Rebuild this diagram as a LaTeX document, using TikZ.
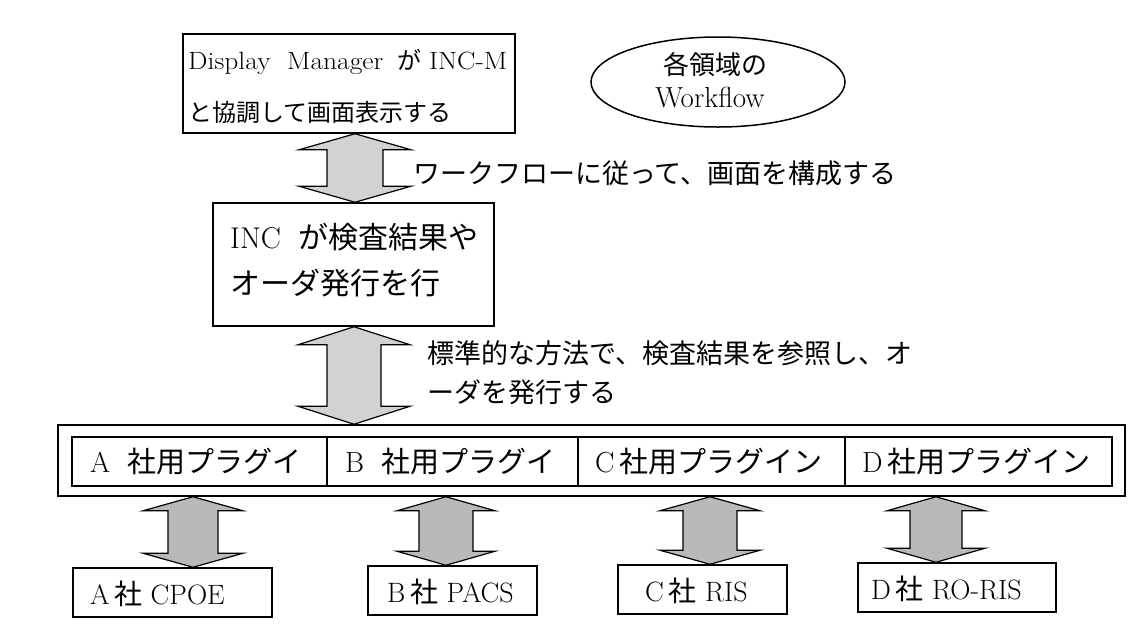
\documentclass[tikz,border=0pt]{standalone}
\usepackage{fontspec}
\usepackage{graphicx}
\newfontfamily\cjk{Noto Sans CJK JP}
\usetikzlibrary{calc,shapes.geometric}
\newcommand\jpn[1]{{\cjk #1}}
\newcommand\widelat[1]{\scalebox{1.1}[1]{#1}}
\newcommand\dblarrow[6]{%
  \draw[#1] let \p1=(#2), \p2=(#3) in
  (\x1,\y1) -- ({\x1+#4pt},{\y1-#6pt}) -- ({\x1+#5pt},{\y1-#6pt})
  -- ({\x1+#5pt},{\y2+#6pt}) -- ({\x1+#4pt},{\y2+#6pt}) -- (\x1,\y2)
  -- ({\x1-#4pt},{\y2+#6pt}) -- ({\x1-#5pt},{\y2+#6pt})
  -- ({\x1-#5pt},{\y1-#6pt}) -- ({\x1-#4pt},{\y1-#6pt}) -- cycle;}
\begin{document}
\begin{tikzpicture}[x=1pt,y=-1pt,
  box/.style={draw, line width=1.5pt, rectangle, inner sep=0pt},
  txt/.style={anchor=west, inner sep=0pt},
  ctxt/.style={inner sep=0pt},
  lightarrow/.style={draw, line width=1.2pt, fill=gray!35, line join=miter},
  darkarrow/.style={draw, line width=1.2pt, fill=gray!55, line join=miter},
  fa/.style={font=\fontsize{24}{24}\selectfont},
  fb/.style={font=\fontsize{26}{26}\selectfont},
  fw/.style={font=\fontsize{29}{29}\selectfont},
  fc/.style={font=\fontsize{27}{27}\selectfont},
  fd/.style={font=\fontsize{30}{30}\selectfont},
  fe/.style={font=\fontsize{29}{29}\selectfont},
  ff/.style={font=\fontsize{28}{28}\selectfont}]
\useasboundingbox (0,0) rectangle (1130,638);

% top box
\node[box, minimum width=332pt, minimum height=99pt] (dm) at (349,83.5) {};
\node[txt, fa] (dm1) at (188,62) {\widelat{\fontsize{25}{25}\selectfont Display\ \ Manager}\ \ \jpn{が}\ \widelat{\fontsize{25}{25}\selectfont INC-M}};
\node[txt, fa] (dm2) at (188,112) {\jpn{と協調して画面表示する}};

% ellipse
\node[ellipse, draw, line width=1.5pt, inner sep=0pt, minimum width=254pt, minimum height=90pt] (wf) at (718,82) {};
\node[ctxt, fb] (wf1) at (715,65) {\jpn{各領域の}};
\node[ctxt, fw] (wf2) at (710,98) {Workflow};

% INC box
\node[box, minimum width=281pt, minimum height=123pt] (inc) at (353.5,264.5) {};
\node[txt, fd] (inc1) at (230,237) {INC\ \ \jpn{が検査結果や}};
\node[txt, fd] (inc2) at (230,283) {\jpn{オーダ発行を行}};

% labels
\node[txt, fc] (l1) at (413,173) {\jpn{ワークフローに従って、画面を構成する}};
\node[txt, fc] (l2a) at (427,353) {\jpn{標準的な方法で、検査結果を参照し、オ}};
\node[txt, fc] (l2b) at (427,392) {\jpn{ーダを発行する}};

% plugin row
\node[box, minimum width=1067pt, minimum height=71pt] (row) at (591.5,460.5) {};
\node[box, minimum width=255pt, minimum height=49pt] (cA) at (199.5,461.5) {};
\node[box, minimum width=251pt, minimum height=49pt] (cB) at (452.5,461.5) {};
\node[box, minimum width=267pt, minimum height=49pt] (cC) at (711.5,461.5) {};
\node[box, minimum width=267pt, minimum height=49pt] (cD) at (978.5,461.5) {};
\node[txt, fe] (tA) at (90,462) {A\ \ \jpn{社用プラグイ}};
\node[txt, fe] (tB) at (345,462) {B\ \ \jpn{社用プラグイ}};
\node[txt, fe] (tC) at (595,462) {C\,\jpn{社用プラグイン}};
\node[txt, fe] (tD) at (862,462) {D\,\jpn{社用プラグイン}};

% bottom systems
\node[box, minimum width=199pt, minimum height=49pt] (sA) at (172.5,592.5) {};
\node[box, minimum width=169pt, minimum height=49pt] (sB) at (452.5,590.5) {};
\node[box, minimum width=169pt, minimum height=49pt] (sC) at (702.5,589.5) {};
\node[box, minimum width=198pt, minimum height=49pt] (sD) at (957,587.5) {};
\node[txt, ff] (xA) at (90,594) {A\,\jpn{社} CPOE};
\node[txt, ff] (xB) at (387,592) {B\,\jpn{社} PACS};
\node[txt, ff] (xC) at (645,591) {C\,\jpn{社} RIS};
\node[txt, ff] (xD) at (871,589) {D\,\jpn{社} RO-RIS};

% arrow end points
\coordinate (a1t) at ($(dm.south)+(6,0)$);
\coordinate (a1b) at (a1t |- inc.north);
\coordinate (a2t) at ($(inc.south)+(0.5,0)$);
\coordinate (a2b) at (a2t |- row.north);
\coordinate (bAt) at (193,0 |- row.south);
\coordinate (bAb) at (bAt |- sA.north);
\coordinate (bBt) at (446,0 |- row.south);
\coordinate (bBb) at (bBt |- sB.north);
\coordinate (bCt) at (710,0 |- row.south);
\coordinate (bCb) at (bCt |- sC.north);
\coordinate (bDt) at (936,0 |- row.south);
\coordinate (bDb) at (bDt |- sD.north);

\dblarrow{lightarrow}{a1t}{a1b}{56}{28}{16}
\dblarrow{lightarrow}{a2t}{a2b}{56}{27}{18}
\dblarrow{darkarrow}{bAt}{bAb}{50}{25}{14}
\dblarrow{darkarrow}{bBt}{bBb}{49}{27}{14}
\dblarrow{darkarrow}{bCt}{bCb}{50}{27}{14}
\dblarrow{darkarrow}{bDt}{bDb}{49}{26}{14}
\end{tikzpicture}
\end{document}
